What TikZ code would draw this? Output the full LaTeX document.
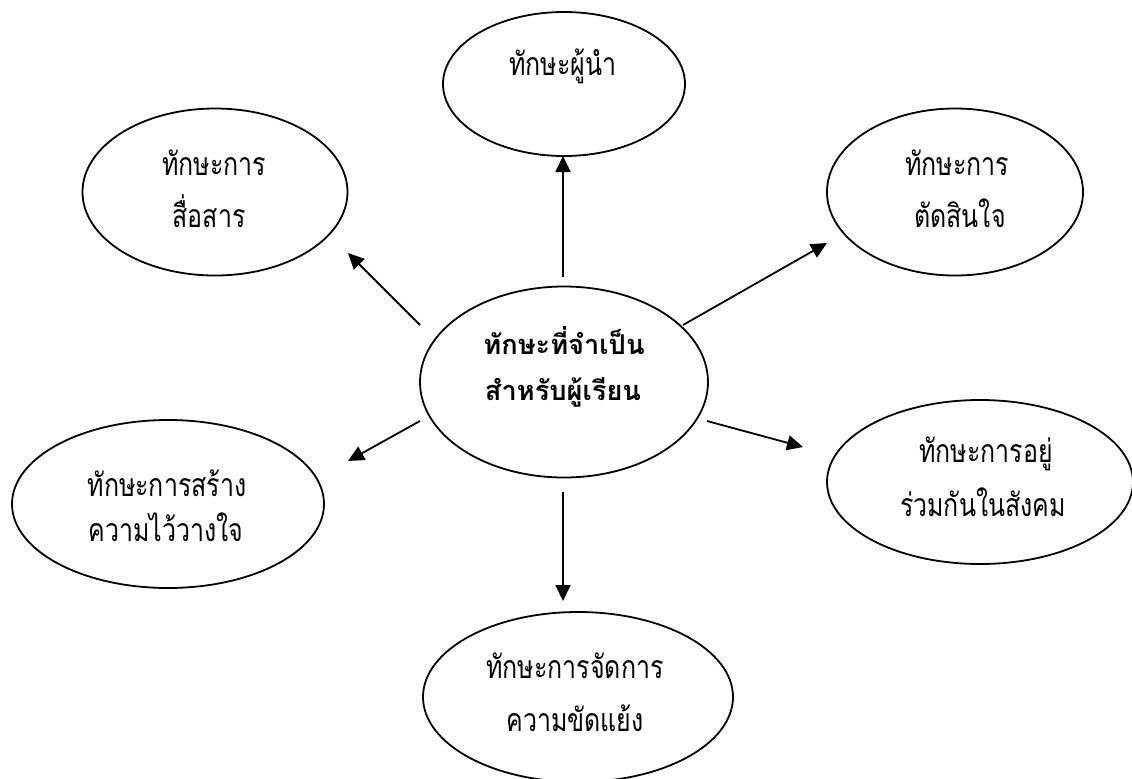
\documentclass[tikz,border=0pt]{standalone}
\usepackage{fontspec}
\newfontfamily\thaifont[Script=Thai,FakeStretch=0.78]{Loma}
\newfontfamily\thaibold[Script=Thai]{Loma}
\usetikzlibrary{shapes.geometric,arrows.meta}
\tikzset{
  bubble/.style={draw, ellipse, line width=0.9pt, inner sep=0pt},
  lbl/.style={font=\thaifont\fontsize{16}{18}\selectfont, inner sep=0pt, anchor=base},
  lblb/.style={font=\thaibold\bfseries\fontsize{13.6}{15}\selectfont, inner sep=0pt, anchor=base},
  arr/.style={line width=0.9pt, -{Triangle[length=8pt,width=7.5pt]}}
}
\begin{document}
\begin{tikzpicture}[x=0.5pt,y=-0.5pt]
\useasboundingbox (0,0) rectangle (1132,778);
% ellipses
\node[bubble, minimum width=121pt, minimum height=72pt] (lead) at (564,84) {};
\node[bubble, minimum width=132.5pt, minimum height=83.5pt] (comm) at (215,192) {};
\node[bubble, minimum width=128pt, minimum height=83.5pt] (deci) at (955,192) {};
\node[bubble, minimum width=144pt, minimum height=95.5pt] (core) at (564,382) {};
\node[bubble, minimum width=156pt, minimum height=84pt] (trust) at (168,504) {};
\node[bubble, minimum width=153pt, minimum height=82pt] (social) at (980,482) {};
\node[bubble, minimum width=155pt, minimum height=85pt] (conflict) at (578,697) {};
% texts
\node[lbl] (tlead) at (563,75) {ทักษะผู้นำ};
\node[lbl] (tcomm1) at (214,175) {ทักษะการ};
\node[lbl] (tcomm2) at (209,227) {สื่อสาร};
\node[lbl] (tdeci1) at (957,175) {ทักษะการ};
\node[lbl] (tdeci2) at (960,227) {ตัดสินใจ};
\node[lblb] (tcore1) at (564,354) {ทักษะที่จำเป็น};
\node[lblb] (tcore2) at (563,400) {สำหรับผู้เรียน};
\node[lbl] (ttrust1) at (167,496) {ทักษะการสร้าง};
\node[lbl] (ttrust2) at (166,541) {ความไว้วางใจ};
\node[lbl] (tsocial1) at (986,462) {ทักษะการอยู่};
\node[lbl] (tsocial2) at (983,516) {ร่วมกันในสังคม};
\node[lbl] (tconf1) at (575,678) {ทักษะการจัดการ};
\node[lbl] (tconf2) at (575,731) {ความขัดแย้ง};
% arrow ends
\coordinate (a1s) at (563,277); \coordinate (a1e) at (563,156);
\coordinate (a2s) at (420,325); \coordinate (a2e) at (348,253);
\coordinate (a3s) at (683,325); \coordinate (a3e) at (827,243);
\coordinate (a4s) at (420,421); \coordinate (a4e) at (348,461);
\coordinate (a5s) at (707,421); \coordinate (a5e) at (803,447);
\coordinate (a6s) at (563,492); \coordinate (a6e) at (563,601);
\draw[arr] (a1s) -- (a1e);
\draw[arr] (a2s) -- (a2e);
\draw[arr] (a3s) -- (a3e);
\draw[arr] (a4s) -- (a4e);
\draw[arr] (a5s) -- (a5e);
\draw[arr] (a6s) -- (a6e);
\end{tikzpicture}
\end{document}
